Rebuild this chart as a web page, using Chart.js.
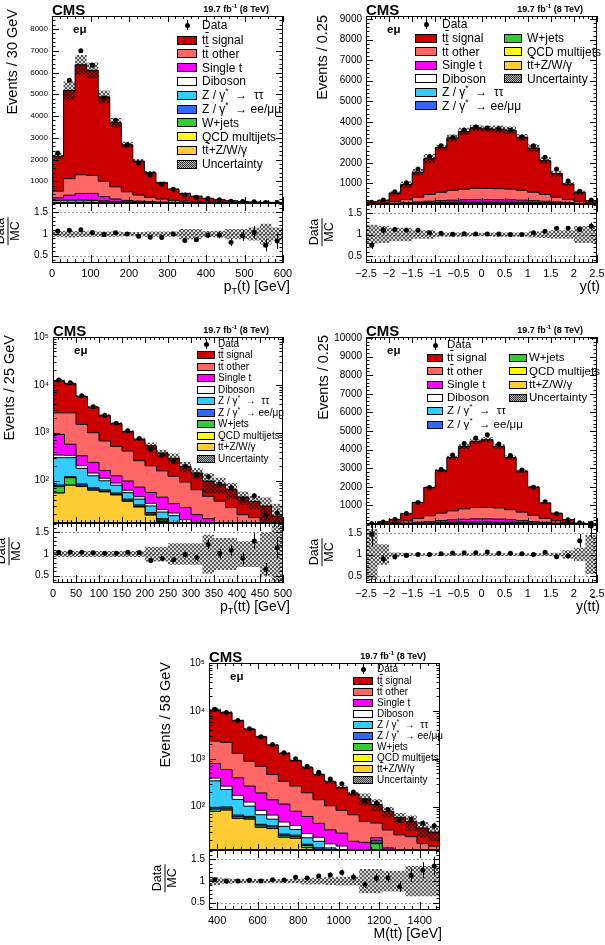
<!DOCTYPE html>
<html>
<head>
<meta charset="utf-8">
<script src="https://cdn.jsdelivr.net/npm/chart.js@4.4.1/dist/chart.umd.min.js"></script>
<style>
  body { margin: 0; background: #fff; width: 605px; height: 945px; position: relative; overflow: hidden;
         font-family: "Liberation Sans", Arial, Helvetica, sans-serif; color: #000; }
  canvas { position: absolute; }
  .lbl { position: absolute; white-space: nowrap; line-height: 1; }
  .ov { text-decoration: overline; }
  .vt { position: absolute; writing-mode: vertical-rl; transform: rotate(180deg); white-space: nowrap; line-height: 1; font-size: 14.5px; }
  .frac { position: absolute; transform: translate(-50%, -50%) rotate(-90deg); text-align: center; line-height: 1; font-size: 12.5px; white-space: nowrap; }
  .frac .num { border-bottom: 1px solid #000; padding: 0 1px 1px; }
  .sw { position: absolute; box-sizing: border-box; border: 1px solid #000; }
  .hatch { background: repeating-conic-gradient(#333 0 25%, #bbb 0 50%) 0 0 / 2px 2px; }
  .dot { position: absolute; width: 5px; height: 5px; border-radius: 50%; background: #000; }
  .bar { position: absolute; width: 1px; background: #000; }
  sup { line-height: 0; }
</style>
</head>
<body>
<script>
// ---------- pT(t) ----------
const ptT_lo = 0, ptT_w = 30;
const ptT_xticks = [0, 100, 200, 300, 400, 500, 600];
const ptT_yticks = [1000, 2000, 3000, 4000, 5000, 6000, 7000, 8000];
const ptT_data    = [2300, 5650, 7000, 6340, 4830, 3800, 2680, 1830, 1290, 860, 635, 370, 270, 210, 148, 85, 70, 52, 26, 21];
const ptT_ttsig   = [1605, 4060, 5060, 4830, 3880, 2950, 2165, 1565, 1130, 755, 510, 345, 245, 171, 119, 82, 57, 39, 27, 19];
const ptT_ttoth   = [305, 760, 860, 830, 710, 560, 395, 280, 200, 138, 95, 69, 50, 34, 24, 17, 12, 8, 6, 4.5];
const ptT_singlet = [115, 215, 290, 310, 195, 115, 72, 50, 35, 23, 17, 12, 8.5, 6.3, 4.3, 3.3, 2.1, 1.6, 1, 0.7];
const ptT_diboson = [10, 14, 16, 15, 12, 9, 7, 5, 4, 3, 2, 1.5, 1, 0.8, 0.6, 0.4, 0.3, 0.2, 0.2, 0.1];
const ptT_ztt     = [90, 100, 100, 85, 60, 40, 28, 20, 14, 10, 7, 5, 3.5, 2.5, 2, 1.5, 1, 0.7, 0.5, 0.4];
const ptT_zll     = [10, 10, 9, 8, 6, 4, 3, 2, 1.5, 1, 0.7, 0.5, 0.3, 0.2, 0.2, 0.1, 0.1, 0.1, 0.05, 0.05];
const ptT_wjets   = [8, 8, 7, 6, 4, 3, 2, 1.5, 1, 0.8, 0.5, 0.4, 0.3, 0.2, 0.1, 0.1, 0.1, 0.05, 0.05, 0.05];
const ptT_qcd     = [0, 0, 0, 0, 0, 0, 0, 0, 0, 0, 0, 0, 0, 0, 0, 0, 0, 0, 0, 0];
const ptT_ttv     = [6, 12, 16, 16, 14, 11, 8, 6, 5, 4, 3, 2, 1.5, 1, 0.8, 0.6, 0.4, 0.3, 0.2, 0.2];
const ptT_unc     = [0.07, 0.08, 0.07, 0.06, 0.06, 0.06, 0.05, 0.05, 0.06, 0.06, 0.06, 0.12, 0.12, 0.07, 0.08, 0.12, 0.12, 0.15, 0.24, 0.15];

// ---------- y(t) ----------
const yT_lo = -2.5, yT_w = 0.25;
const yT_xticks = [-2.5, -2, -1.5, -1, -0.5, 0, 0.5, 1, 1.5, 2, 2.5];
const yT_yticks = [1000, 2000, 3000, 4000, 5000, 6000, 7000, 8000, 9000];
const yT_data    = [80, 200, 600, 1040, 1700, 2300, 2830, 3250, 3600, 3750, 3700, 3680, 3590, 3250, 2830, 2280, 1700, 1120, 620, 200];
const yT_ttsig   = [86, 144, 410, 732, 1216, 1745, 2178, 2554, 2806, 2948, 2898, 2896, 2866, 2584, 2148, 1645, 1151, 762, 429, 129];
const yT_ttoth   = [15, 25, 90, 150, 230, 330, 410, 480, 520, 550, 550, 540, 520, 480, 410, 330, 230, 150, 90, 25];
const yT_singlet = [3, 6, 18, 32, 50, 70, 85, 100, 110, 115, 115, 110, 110, 100, 85, 70, 50, 32, 18, 6];
const yT_diboson = [0.5, 1, 3, 5, 8, 11, 13, 15, 16, 17, 17, 16, 16, 15, 13, 11, 8, 5, 3, 1];
const yT_ztt     = [2, 4, 10, 18, 28, 38, 45, 50, 54, 56, 56, 54, 54, 50, 45, 38, 28, 18, 10, 4];
const yT_zll     = [0.3, 0.6, 2, 3, 5, 6, 7, 8, 9, 9, 9, 9, 9, 8, 7, 6, 5, 3, 2, 0.6];
const yT_wjets   = [0.2, 0.5, 1, 2, 3, 3, 4, 4, 5, 5, 5, 5, 5, 4, 4, 3, 3, 2, 1, 0.5];
const yT_qcd     = [0, 0, 0, 0, 0, 0, 0, 0, 0, 0, 0, 0, 0, 0, 0, 0, 0, 0, 0, 0];
const yT_ttv     = [0.3, 0.6, 2, 3, 5, 7, 8, 9, 10, 10, 10, 10, 10, 9, 8, 7, 5, 3, 2, 0.6];
const yT_unc     = [0.23, 0.2, 0.16, 0.16, 0.1, 0.1, 0.05, 0.05, 0.05, 0.04, 0.04, 0.05, 0.05, 0.05, 0.07, 0.08, 0.1, 0.1, 0.2, 0.2];

// ---------- pT(tt) ----------
const ptTT_lo = 0, ptTT_w = 25;
const ptTT_xticks = [0, 50, 100, 150, 200, 250, 300, 350, 400, 450, 500];
const ptTT_data    = [12700, 11100, 5940, 3510, 2320, 1580, 1100, 760, 452, 340, 255, 196, 133, 120, 85, 71, 41, 48, 19, 21];
const ptTT_ttsig   = [9600, 8000, 4220, 2410, 1600, 1035, 645, 475, 328, 218, 170, 105, 80, 51, 47, 38, 26, 20, 20, 11];
const ptTT_ttoth   = [1680, 2025, 1160, 760, 510, 390, 315, 187, 147, 115, 90, 66, 45, 31, 26, 19, 13, 12.5, 6, 5];
const ptTT_singlet = [580, 240, 125, 96, 50, 37, 35, 27, 23, 20, 12, 12, 9, 8, 5, 4, 3, 2, 1.5, 1];
const ptTT_diboson = [40, 35, 25, 18, 13, 9, 7, 5, 4, 3, 2.5, 2, 1.5, 1.2, 1, 0.8, 0.6, 0.5, 0.4, 0.3];
const ptTT_ztt     = [220, 180, 95, 55, 35, 25, 15, 10, 8, 6, 7, 4, 3, 2, 1.5, 1, 1, 0.5, 0.5, 0.3];
const ptTT_zll     = [6, 6, 5, 4, 3, 3, 2, 2, 1.5, 1, 1, 0.8, 0.6, 0.5, 0.4, 0.3, 0.2, 0.2, 0.1, 0.1];
const ptTT_wjets   = [20, 35, 5, 4, 3, 2, 2, 1, 1, 1, 0.5, 0.5, 0.3, 0.3, 0.2, 0.2, 0.1, 0.1, 0.1, 0.1];
const ptTT_qcd     = [0, 0, 0, 0, 0, 0, 0, 0, 0, 0, 0, 0, 0, 0, 0, 0, 0, 0, 0, 0];
const ptTT_ttv     = [55, 80, 75, 63, 58, 50, 37, 28, 19, 14, 10, 8, 5, 4, 3, 2, 1.5, 1, 0.8, 0.5];
const ptTT_unc     = [0.07, 0.07, 0.07, 0.07, 0.07, 0.07, 0.07, 0.07, 0.17, 0.17, 0.25, 0.25, 0.25, 0.45, 0.37, 0.37, 0.3, 0.3, 0.5, 0.8];

// ---------- y(tt) ----------
const yTT_lo = -2.5, yTT_w = 0.25;
const yTT_xticks = [-2.5, -2, -1.5, -1, -0.5, 0, 0.5, 1, 1.5, 2, 2.5];
const yTT_yticks = [1000, 2000, 3000, 4000, 5000, 6000, 7000, 8000, 9000, 10000];
const yTT_data    = [25, 105, 240, 560, 1160, 1960, 2930, 3710, 4330, 4620, 4800, 4300, 3680, 2900, 1980, 1190, 550, 230, 70, 40];
const yTT_ttsig   = [11, 78, 170, 403, 863, 1517, 2285, 2866, 3346, 3556, 3635, 3308, 2800, 2205, 1517, 833, 407, 162, 36, 17];
const yTT_ttoth   = [4, 28, 60, 120, 210, 310, 400, 480, 560, 610, 620, 600, 540, 450, 330, 210, 125, 55, 12, 5];
const yTT_singlet = [1, 6, 12, 25, 45, 70, 100, 120, 140, 150, 150, 145, 125, 100, 70, 45, 25, 10, 2, 1];
const yTT_diboson = [0.2, 1, 3, 6, 10, 15, 20, 24, 27, 29, 30, 28, 25, 20, 15, 10, 6, 2, 0.5, 0.2];
const yTT_ztt     = [0.5, 3, 6, 12, 22, 33, 45, 55, 60, 65, 65, 62, 55, 45, 33, 22, 12, 5, 1.5, 0.5];
const yTT_zll     = [0.1, 0.5, 1, 2, 4, 6, 8, 10, 11, 12, 12, 11, 10, 8, 6, 4, 2, 1, 0.3, 0.1];
const yTT_wjets   = [0, 0.3, 0.5, 1, 2, 3, 4, 5, 5, 6, 6, 5, 5, 4, 3, 2, 1, 0.5, 0.2, 0];
const yTT_qcd     = [0, 0, 0, 0, 0, 0, 0, 0, 0, 0, 0, 0, 0, 0, 0, 0, 0, 0, 0, 0];
const yTT_ttv     = [0.1, 0.5, 1, 2, 4, 6, 8, 10, 11, 12, 12, 11, 10, 8, 6, 4, 2, 1, 0.3, 0.1];
const yTT_unc     = [0.6, 0.24, 0.05, 0.04, 0.03, 0.03, 0.03, 0.03, 0.03, 0.03, 0.03, 0.03, 0.03, 0.03, 0.03, 0.03, 0.04, 0.1, 0.16, 0.46];

// ---------- M(tt) ----------
const mTT_lo = 360, mTT_w = 57;
const mTT_xticks = [400, 600, 800, 1000, 1200, 1400];
const mTT_data    = [10800, 9230, 6300, 4250, 2890, 2000, 1340, 1000, 700, 525, 380, 303, 203, 135, 119, 86, 52, 55, 45, 40];
const mTT_ttsig   = [8150, 7030, 5000, 3280, 2190, 1470, 970, 647, 459, 329, 228, 169, 117, 98, 66, 47, 34, 25, 19, 14.6];
const mTT_ttoth   = [1550, 1600, 900, 620, 505, 330, 226, 190, 133, 95, 72, 56, 49, 31, 23, 19, 14, 14, 9, 9];
const mTT_singlet = [400, 330, 230, 145, 110, 73, 66, 40, 35, 22, 16, 13, 8, 9, 3, 8, 7, 6, 5, 3.5];
const mTT_diboson = [50, 40, 30, 22, 16, 12, 9, 7, 5, 4, 3, 2.5, 2, 1.5, 1.2, 1, 0.8, 0.6, 0.5, 0.4];
const mTT_ztt     = [250, 130, 75, 40, 25, 15, 12, 8, 6, 5, 3, 3, 2, 1.5, 1, 1, 0.8, 0.6, 0.5, 0.4];
const mTT_zll     = [7, 6, 5, 4, 3, 2, 2, 1.5, 1, 1, 0.8, 0.6, 0.5, 0.5, 0.4, 0.3, 0.3, 0.2, 0.2, 0.2];
const mTT_wjets   = [10, 8, 5, 4, 3, 3, 2, 2, 1.5, 1, 1, 1, 0.5, 0.5, 13, 0.5, 0.5, 0.3, 0.3, 0.3];
const mTT_qcd     = [0, 0, 0, 0, 0, 0, 0, 0, 0, 0, 0, 0, 0, 0, 0, 0, 0, 0, 0, 0];
const mTT_ttv     = [80, 85, 57, 55, 37, 35, 23, 22, 14, 12, 9, 8, 6, 5, 4, 3, 2.5, 2, 1.5, 1.2];
const mTT_unc     = [0.09, 0.06, 0.05, 0.05, 0.05, 0.05, 0.05, 0.05, 0.08, 0.08, 0.09, 0.1, 0.1, 0.28, 0.28, 0.24, 0.24, 0.35, 0.35, 0.35];

const RATIO_TICKS = [0.5, 1, 1.5];
const LOG_TICKS = [10, 100, 1000, 10000, 100000];

// stacking order, bottom first
const STACK = ['ttv', 'qcd', 'wjets', 'zll', 'ztt', 'diboson', 'singlet', 'ttoth', 'ttsig'];
const COLORS = { ttsig: '#cc0000', ttoth: '#ff6666', singlet: '#ff00ff', diboson: '#ffffff',
  ztt: '#33ccff', zll: '#3366ff', wjets: '#33cc33', qcd: '#ffff00', ttv: '#ffcc33' };
const TT = 't<span class="ov">t</span>';
const LEGEND_KEYS = ['ttsig', 'ttoth', 'singlet', 'diboson', 'ztt', 'zll', 'wjets', 'qcd', 'ttv', 'unc'];
const LEGEND_TEXT = {
  ttsig: TT + ' signal', ttoth: TT + ' other', singlet: 'Single t', diboson: 'Diboson',
  ztt: 'Z / γ<sup style="font-size:70%">*</sup> &nbsp;&rarr;&nbsp; ττ',
  zll: 'Z / γ<sup style="font-size:70%">*</sup> &nbsp;&rarr; ee/μμ', wjets: 'W+jets',
  qcd: 'QCD multijets', ttv: TT + '+Z/W/γ', unc: 'Uncertainty'
};
const FONT = '"Liberation Sans", Arial, sans-serif';
const AW = 42, PT = 8, PR = 2, RPT = 2, RPR = 14, XH = 20;

const panels = [
  { lo: ptT_lo, w: ptT_w, data: ptT_data, unc: ptT_unc, xticks: ptT_xticks, yticks: ptT_yticks,
    comps: { ttsig: ptT_ttsig, ttoth: ptT_ttoth, singlet: ptT_singlet, diboson: ptT_diboson, ztt: ptT_ztt,
             zll: ptT_zll, wjets: ptT_wjets, qcd: ptT_qcd, ttv: ptT_ttv },
    log: false, ymin: 0, ymax: 8600, yfont: 8,
    geo: { fx: 52, fw: 231, my: 16, mh: 187, rh: 60 },
    ytitle: 'Events / 30 GeV', ytitleX: 12, ytitleTop: 9,
    xtitle: 'p<sub style="font-size:9px;vertical-align:-3px">T</sub>(t) [GeV]', xtitleRight: 290,
    leg: { bx: 125, bw: 20, bh: 9, tx: 150, yData: 9, y1: 24, dy: 13.8, fs: 12 } },
  { lo: yT_lo, w: yT_w, data: yT_data, unc: yT_unc, xticks: yT_xticks, yticks: yT_yticks,
    comps: { ttsig: yT_ttsig, ttoth: yT_ttoth, singlet: yT_singlet, diboson: yT_diboson, ztt: yT_ztt,
             zll: yT_zll, wjets: yT_wjets, qcd: yT_qcd, ttv: yT_ttv },
    log: false, ymin: 0, ymax: 9150, yfont: 10,
    geo: { fx: 366, fw: 231, my: 16, mh: 188, rh: 59 },
    ytitle: 'Events / 0.25', ytitleX: 322, ytitleTop: 15,
    xtitle: 'y(t)', xtitleRight: 600,
    leg: { bx: 49, bw: 22, bh: 9, tx: 76, yData: 8, y1: 22, dy: 13.5, fs: 12, col2: { bx: 138, bw: 18, tx: 161 } } },
  { lo: ptTT_lo, w: ptTT_w, data: ptTT_data, unc: ptTT_unc, xticks: ptTT_xticks, yticks: LOG_TICKS,
    comps: { ttsig: ptTT_ttsig, ttoth: ptTT_ttoth, singlet: ptTT_singlet, diboson: ptTT_diboson, ztt: ptTT_ztt,
             zll: ptTT_zll, wjets: ptTT_wjets, qcd: ptTT_qcd, ttv: ptTT_ttv },
    log: true, ymin: 13, ymax: 100000, yfont: 10,
    geo: { fx: 53, fw: 230, my: 337, mh: 186, rh: 60 },
    ytitle: 'Events / 25 GeV', ytitleX: 9, ytitleTop: 335,
    xtitle: 'p<sub style="font-size:9px;vertical-align:-3px">T</sub>(' + TT + ') [GeV]', xtitleRight: 290,
    leg: { bx: 144, bw: 18, bh: 8, tx: 165, yData: 7, y1: 18, dy: 11.5, fs: 10 } },
  { lo: yTT_lo, w: yTT_w, data: yTT_data, unc: yTT_unc, xticks: yTT_xticks, yticks: yTT_yticks,
    comps: { ttsig: yTT_ttsig, ttoth: yTT_ttoth, singlet: yTT_singlet, diboson: yTT_diboson, ztt: yTT_ztt,
             zll: yTT_zll, wjets: yTT_wjets, qcd: yTT_qcd, ttv: yTT_ttv },
    log: false, ymin: 0, ymax: 10050, yfont: 10,
    geo: { fx: 366, fw: 231, my: 337, mh: 187, rh: 59 },
    ytitle: 'Events / 0.25', ytitleX: 323, ytitleTop: 335,
    xtitle: 'y(' + TT + ')', xtitleRight: 600,
    leg: { bx: 61, bw: 16, bh: 8, tx: 81, yData: 8, y1: 21, dy: 13.3, fs: 11.5, col2: { bx: 143, bw: 18, tx: 163 } } },
  { lo: mTT_lo, w: mTT_w, data: mTT_data, unc: mTT_unc, xticks: mTT_xticks, yticks: LOG_TICKS,
    comps: { ttsig: mTT_ttsig, ttoth: mTT_ttoth, singlet: mTT_singlet, diboson: mTT_diboson, ztt: mTT_ztt,
             zll: mTT_zll, wjets: mTT_wjets, qcd: mTT_qcd, ttv: mTT_ttv },
    log: true, ymin: 12.5, ymax: 100000, yfont: 10,
    geo: { fx: 209, fw: 231, my: 663, mh: 187, rh: 60 },
    ytitle: 'Events / 58 GeV', ytitleX: 165, ytitleTop: 662,
    xtitle: 'M(' + TT + ') [GeV]', xtitleRight: 442,
    leg: { bx: 144, bw: 20, bh: 8, tx: 168, yData: 6, y1: 18, dy: 11, fs: 10 } }
];

function hatchPattern() {
  const c = document.createElement('canvas');
  c.width = 4; c.height = 4;
  const g = c.getContext('2d');
  g.fillStyle = 'rgba(0,0,0,0.15)';
  g.fillRect(0, 0, 4, 4);
  g.fillStyle = 'rgba(0,0,0,0.6)';
  for (let i = 0; i < 4; i++) { g.fillRect(i, i, 1, 1); g.fillRect(3 - i, i, 1, 1); }
  return g.createPattern(c, 'repeat');
}
const HATCH = hatchPattern();

// tick mark positions (decoration only)
function linTicks(major, div, lo, hi) {
  const step = (major[1] - major[0]) / div;
  const out = [];
  const start = major[0] - Math.floor((major[0] - lo) / step + 1e-6) * step;
  for (let v = start; v <= hi + 1e-6; v += step) {
    out.push({ v, major: major.some(m => Math.abs(m - v) < step * 0.01) });
  }
  return out;
}
function logTicks(lo, hi) {
  const out = [];
  for (let e = Math.floor(Math.log10(lo)); e <= Math.ceil(Math.log10(hi)); e++) {
    for (let m = 1; m < 10; m++) {
      const v = m * Math.pow(10, e);
      if (v >= lo && v <= hi * 1.0001) out.push({ v, major: m === 1 });
    }
  }
  return out;
}

const framePlugin = {
  id: 'frame',
  beforeDatasetsDraw(chart, args, o) {
    if (!o.refLines) return;
    const { ctx, chartArea: a } = chart;
    const ys = chart.scales.y;
    ctx.save();
    ctx.strokeStyle = '#999';
    ctx.lineWidth = 1;
    ctx.setLineDash([2, 2]);
    o.refLines.forEach(v => {
      const y = Math.round(ys.getPixelForValue(v)) + 0.5;
      ctx.beginPath(); ctx.moveTo(a.left, y); ctx.lineTo(a.right, y); ctx.stroke();
    });
    ctx.restore();
  },
  afterDatasetsDraw(chart, args, o) {
    const { ctx, chartArea: a } = chart;
    const xs = chart.scales.x, ys = chart.scales.y;
    ctx.save();
    ctx.strokeStyle = '#000';
    ctx.lineWidth = 1;
    const seg = (x1, y1, x2, y2) => { ctx.beginPath(); ctx.moveTo(x1, y1); ctx.lineTo(x2, y2); ctx.stroke(); };
    linTicks(o.xMajor, o.xDiv, xs.min, xs.max).forEach(t => {
      const x = Math.round(xs.getPixelForValue(t.v)) + 0.5;
      const l = t.major ? o.xLen : o.xLen / 2;
      seg(x, a.bottom, x, a.bottom - l);
      seg(x, a.top, x, a.top + l);
    });
    const yt = o.log ? logTicks(ys.min, ys.max) : linTicks(o.yMajor, o.yDiv, ys.min, ys.max);
    yt.forEach(t => {
      const y = Math.round(ys.getPixelForValue(t.v)) + 0.5;
      const l = t.major ? o.yLen : o.yLen / 2;
      seg(a.left, y, a.left + l, y);
      seg(a.right, y, a.right - l, y);
    });
    ctx.strokeRect(a.left + 0.5, a.top + 0.5, a.width - 1, a.height - 1);
    ctx.restore();
  }
};

// vertical error bars on data points
const errPlugin = {
  id: 'errbars',
  afterDatasetsDraw(chart) {
    const { ctx, chartArea: a } = chart;
    const ys = chart.scales.y;
    chart.data.datasets.forEach((ds, i) => {
      if (!ds.errBars) return;
      const meta = chart.getDatasetMeta(i);
      ctx.save();
      ctx.beginPath(); ctx.rect(a.left, a.top, a.width, a.height); ctx.clip();
      ctx.strokeStyle = '#000';
      ctx.lineWidth = 1;
      meta.data.forEach((pt, j) => {
        const v = ds.data[j].y, e = ds.errBars[j];
        const x = Math.round(pt.x) + 0.5;
        const y1 = ys.getPixelForValue(v + e);
        const y2 = ys.getPixelForValue(Math.max(v - e, 1e-3));
        ctx.beginPath(); ctx.moveTo(x, y1); ctx.lineTo(x, y2); ctx.stroke();
      });
      ctx.restore();
    });
  }
};

const SUP = { 1: '¹', 2: '²', 3: '³', 4: '⁴', 5: '⁵' };
function fmtX(v) { return v < 0 ? '−' + Math.abs(v) : String(v); }
function fmtLog(v) { const e = Math.round(Math.log10(v)); return '10' + (SUP[e] || ''); }

function addCanvas(left, top, w, h) {
  const c = document.createElement('canvas');
  c.width = w; c.height = h;
  c.style.left = left + 'px'; c.style.top = top + 'px';
  c.style.width = w + 'px'; c.style.height = h + 'px';
  document.body.appendChild(c);
  return c;
}
function put(html, x, y, css) {
  const d = document.createElement('div');
  d.className = 'lbl';
  d.innerHTML = html;
  d.style.left = x + 'px';
  d.style.top = y + 'px';
  if (css) d.style.cssText += css;
  document.body.appendChild(d);
  return d;
}
function box(cls, x, y, w, h, bg) {
  const d = document.createElement('div');
  d.className = cls;
  d.style.left = x + 'px'; d.style.top = y + 'px';
  d.style.width = w + 'px'; d.style.height = h + 'px';
  if (bg) d.style.background = bg;
  document.body.appendChild(d);
  return d;
}

function drawPanel(p) {
  const g = p.geo;
  const n = p.data.length;
  const edges = Array.from({ length: n + 1 }, (_, i) => p.lo + i * p.w);
  const centers = edges.slice(0, n).map(e => e + p.w / 2);
  const steps = vals => edges.map((e, i) => ({ x: e, y: vals[Math.min(i, n - 1)] }));

  // cumulative stack
  let run = new Array(n).fill(0);
  const sets = STACK.map((key, k) => {
    run = run.map((r, i) => r + p.comps[key][i]);
    return { data: steps(run), stepped: 'before', fill: k === 0 ? 'start' : '-1',
      backgroundColor: COLORS[key], borderColor: '#000', borderWidth: 1, pointRadius: 0, order: 3 };
  });
  const total = run;
  sets.push({ data: steps(total.map((t, i) => t * (1 - p.unc[i]))), stepped: 'before', fill: false,
    borderColor: 'rgba(0,0,0,0)', borderWidth: 1, pointRadius: 0, order: 2 });
  sets.push({ data: steps(total.map((t, i) => t * (1 + p.unc[i]))), stepped: 'before', fill: '-1',
    backgroundColor: HATCH, borderColor: 'rgba(0,0,0,0)', borderWidth: 1, pointRadius: 0, order: 2 });
  sets.push({ data: centers.map((c, i) => ({ x: c, y: p.data[i] })), showLine: false, pointRadius: 2.5,
    pointBackgroundColor: '#000', pointBorderWidth: 0, errBars: p.data.map(Math.sqrt), order: 1 });

  const cvMain = addCanvas(g.fx - AW, g.my - PT, AW + g.fw + PR, PT + g.mh);
  new Chart(cvMain, {
    type: 'line',
    data: { datasets: sets },
    options: {
      responsive: false, animation: false, events: [],
      layout: { padding: { top: PT, right: PR, left: 0, bottom: 0 }, autoPadding: false },
      plugins: {
        legend: { display: false }, tooltip: { enabled: false },
        frame: { xMajor: p.xticks, xDiv: 5, xLen: 6, yMajor: p.yticks, yDiv: 5, yLen: 7, log: p.log }
      },
      scales: {
        x: { type: 'linear', min: edges[0], max: edges[n], display: false },
        y: {
          type: p.log ? 'logarithmic' : 'linear', min: p.ymin, max: p.ymax,
          afterBuildTicks: s => { s.ticks = p.yticks.filter(v => v >= p.ymin && v <= p.ymax).map(v => ({ value: v })); },
          afterFit: s => { s.width = AW; s.paddingTop = 0; s.paddingBottom = 0; },
          grid: { display: false, drawTicks: false }, border: { display: false },
          ticks: { padding: 4, autoSkip: false, maxRotation: 0, color: '#000',
            font: { family: FONT, size: p.yfont }, callback: v => p.log ? fmtLog(v) : String(v) }
        }
      }
    },
    plugins: [framePlugin, errPlugin]
  });

  // ratio panel
  const ratio = p.data.map((d, i) => d / total[i]);
  const ratioErr = p.data.map((d, i) => Math.sqrt(d) / total[i]);
  const ry = g.my + g.mh;
  const cvRatio = addCanvas(g.fx - AW, ry - RPT, AW + g.fw + RPR, RPT + g.rh + XH);
  new Chart(cvRatio, {
    type: 'line',
    data: { datasets: [
      { data: steps(p.unc.map(u => 1 - u)), stepped: 'before', fill: false,
        borderColor: 'rgba(0,0,0,0)', borderWidth: 1, pointRadius: 0, order: 2 },
      { data: steps(p.unc.map(u => 1 + u)), stepped: 'before', fill: '-1', backgroundColor: HATCH,
        borderColor: 'rgba(0,0,0,0)', borderWidth: 1, pointRadius: 0, order: 2 },
      { data: centers.map((c, i) => ({ x: c, y: ratio[i] })), showLine: false, pointRadius: 2.5,
        pointBackgroundColor: '#000', pointBorderWidth: 0, errBars: ratioErr, order: 1 }
    ] },
    options: {
      responsive: false, animation: false, events: [],
      layout: { padding: { top: RPT, right: RPR, left: 0, bottom: 0 }, autoPadding: false },
      plugins: {
        legend: { display: false }, tooltip: { enabled: false },
        frame: { xMajor: p.xticks, xDiv: 5, xLen: 8, yMajor: RATIO_TICKS, yDiv: 5, yLen: 7, log: false, refLines: RATIO_TICKS }
      },
      scales: {
        x: {
          type: 'linear', min: edges[0], max: edges[n],
          afterBuildTicks: s => { s.ticks = p.xticks.map(v => ({ value: v })); },
          afterFit: s => { s.height = XH; s.paddingLeft = 0; s.paddingRight = 0; },
          grid: { display: false, drawTicks: false }, border: { display: false },
          ticks: { padding: 4, autoSkip: false, maxRotation: 0, color: '#000',
            font: { family: FONT, size: 11 }, callback: v => fmtX(v) }
        },
        y: {
          type: 'linear', min: 0.33, max: 1.72,
          afterBuildTicks: s => { s.ticks = RATIO_TICKS.map(v => ({ value: v })); },
          afterFit: s => { s.width = AW; s.paddingTop = 0; s.paddingBottom = 0; },
          grid: { display: false, drawTicks: false }, border: { display: false },
          ticks: { padding: 4, autoSkip: false, color: '#000', font: { family: FONT, size: 10 },
            callback: v => String(v) }
        }
      }
    },
    plugins: [framePlugin, errPlugin]
  });

  // texts
  put('CMS', g.fx, g.my - 14, 'font-weight:bold;font-size:15px;');
  put('19.7 fb<sup style="font-size:6px">-1</sup> (8 TeV)', g.fx + g.fw - 14, g.my - 11,
    'font-weight:bold;font-size:9px;transform:translateX(-100%);');
  put('eμ', g.fx + 21, g.my + 8, 'font-weight:bold;font-size:11.5px;');
  const vt = document.createElement('div');
  vt.className = 'vt';
  vt.textContent = p.ytitle;
  vt.style.left = (p.ytitleX - 7) + 'px';
  vt.style.top = p.ytitleTop + 'px';
  document.body.appendChild(vt);
  const fr = document.createElement('div');
  fr.className = 'frac';
  fr.innerHTML = '<div class="num">Data</div><div>MC</div>';
  fr.style.left = (g.fx - 45) + 'px';
  fr.style.top = (ry + 28) + 'px';
  document.body.appendChild(fr);
  put(p.xtitle, p.xtitleRight, ry + g.rh + 16, 'font-size:14px;transform:translateX(-100%);');

  // legend
  const L = p.leg;
  const mx = g.fx + L.bx + L.bw / 2;
  const dcy = g.my + L.yData;
  box('dot', mx - 2.5, dcy - 2.5, 5, 5);
  box('bar', mx - 0.5, dcy - 5, 1, 10);
  put('Data', g.fx + L.tx, dcy - L.fs / 2, 'font-size:' + L.fs + 'px;');
  LEGEND_KEYS.forEach((key, k) => {
    let row = k, bx = L.bx, bw = L.bw, tx = L.tx;
    if (L.col2 && k >= 6) { row = k - 6; bx = L.col2.bx; bw = L.col2.bw; tx = L.col2.tx; }
    const cy = g.my + L.y1 + row * L.dy;
    box('sw' + (key === 'unc' ? ' hatch' : ''), g.fx + bx, Math.round(cy - L.bh / 2), bw, L.bh,
      key === 'unc' ? null : COLORS[key]);
    put(LEGEND_TEXT[key], g.fx + tx, cy - L.fs / 2, 'font-size:' + L.fs + 'px;');
  });
}

panels.forEach(drawPanel);
</script>
</body>
</html>
